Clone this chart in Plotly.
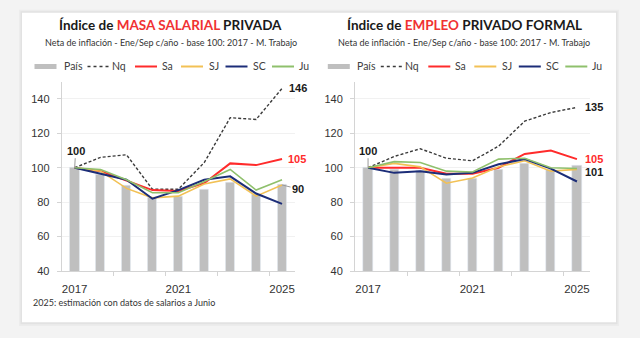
import plotly.graph_objects as go

# Años y series (base 100 = 2017)
years = [2017, 2018, 2019, 2020, 2021, 2022, 2023, 2024, 2025]

# Índice de masa salarial privada
masa_pais = [100, 96, 89.5, 82.5, 83.5, 87.5, 91.5, 84.5, 90]
masa_nq = [100, 106, 107.5, 87.5, 87.5, 103, 129, 128, 146]
masa_sa = [100, 98, 92.5, 87, 86.5, 91, 102.5, 101.5, 105]
masa_sj = [100, 98, 88, 82.5, 83.5, 90.5, 93.5, 83.5, 90]
masa_sc = [100, 96.5, 93, 82, 87, 93, 95, 85, 79]
masa_ju = [100, 99, 93, 85.5, 85.5, 92, 99, 87, 93]

# Índice de empleo privado formal
emp_pais = [100, 99, 98.5, 94, 94, 99, 102.5, 99, 101]
emp_nq = [100, 106.5, 111, 105.5, 104, 112.5, 127, 132, 135]
emp_sa = [100, 100, 100, 96.5, 96.5, 100, 108, 110, 105]
emp_sj = [100, 102.5, 100.5, 91, 94, 100.5, 104, 98, 99]
emp_sc = [100, 97, 98, 96, 97, 102, 105, 99.5, 92]
emp_ju = [100, 103.5, 103, 98, 97.5, 105, 105.5, 100, 99.5]

year_ticks = [2017, 2021, 2025]
year_ticktext = ["2017", "2021", "2025"]
y_ticks = [40, 60, 80, 100, 120, 140]

W, H = 640, 338
def PX(x):
    return x / W
def PY(y):
    return 1 - y / H

C_PAIS = "#bfbfbf"
C_NQ = "#3a3a3a"
C_SA = "#ff2b2b"
C_SJ = "#f2c155"
C_SC = "#1c2d78"
C_JU = "#8fc06c"
TXT = "#333333"
SANS = "Liberation Sans, Arial, sans-serif"
HUM = "Lato, Open Sans, sans-serif"

series_style = [
    ("Nq", dict(color=C_NQ, width=1.4, dash="3px,2px")),
    ("Sa", dict(color=C_SA, width=2)),
    ("SJ", dict(color=C_SJ, width=1.6)),
    ("SC", dict(color=C_SC, width=2)),
    ("Ju", dict(color=C_JU, width=1.6)),
]

fig = go.Figure()

def add_panel(xa, ya, pais, lines):
    fig.add_trace(go.Bar(x=years, y=pais, name="País", marker_color=C_PAIS,
                         width=0.35, xaxis=xa, yaxis=ya, showlegend=False))
    for (name, style), vals in zip(series_style, lines):
        fig.add_trace(go.Scatter(x=years, y=vals, name=name, mode="lines",
                                 line=style, xaxis=xa, yaxis=ya, showlegend=False))

add_panel("x", "y", masa_pais, [masa_nq, masa_sa, masa_sj, masa_sc, masa_ju])
add_panel("x2", "y2", emp_pais, [emp_nq, emp_sa, emp_sj, emp_sc, emp_ju])

dom_left = [PX(61.7), PX(295)]
dom_right = [PX(355), PX(590)]
dom_y = [PY(276), PY(83)]

xcommon = dict(range=[2016.5, 2025.5], tickvals=year_ticks, ticktext=year_ticktext,
               ticks="", showline=True, linecolor="#d4d4d4", linewidth=1,
               showgrid=False, zeroline=False, ticklabelstandoff=7,
               tickfont=dict(family=SANS, size=11.5, color=TXT),
               minor=dict(tickvals=[2018.5, 2020.5, 2022.5, 2024.5], ticks="outside",
                          ticklen=4, tickcolor="#d4d4d4", showgrid=False))
ycommon = dict(range=[40, 150], tickvals=y_ticks, ticks="outside", ticklen=4,
               tickcolor="#d4d4d4", showline=True, linecolor="#d4d4d4", linewidth=1,
               gridcolor="#f1f1f1", zeroline=False, ticklabelstandoff=5,
               tickfont=dict(family=SANS, size=11, color=TXT))

fig.update_layout(
    width=W, height=H, margin=dict(l=0, r=0, t=0, b=0),
    paper_bgcolor="#f3f3f3", plot_bgcolor="rgba(0,0,0,0)",
    bargap=0, showlegend=False,
    xaxis=dict(domain=dom_left, anchor="y", **xcommon),
    yaxis=dict(domain=dom_y, anchor="x", **ycommon),
    xaxis2=dict(domain=dom_right, anchor="y2", **xcommon),
    yaxis2=dict(domain=dom_y, anchor="x2", **ycommon),
)

# Tarjeta blanca con sombra suave
shapes = [
    dict(type="rect", xref="paper", yref="paper", x0=PX(19), x1=PX(619), y0=PY(332), y1=PY(10),
         fillcolor="#ececec", line_width=0, layer="below"),
    dict(type="rect", xref="paper", yref="paper", x0=PX(20.5), x1=PX(617.5), y0=PY(330), y1=PY(11.5),
         fillcolor="#e2e2e2", line_width=0, layer="below"),
    dict(type="rect", xref="paper", yref="paper", x0=PX(22), x1=PX(616), y0=PY(328), y1=PY(13),
         fillcolor="#ffffff", line_width=0, layer="below"),
]

annotations = []

# Títulos y subtítulos
def add_titles(cx, highlight, rest):
    annotations.append(dict(
        x=PX(cx), y=PY(25), xref="paper", yref="paper", showarrow=False,
        xanchor="center", yanchor="middle",
        text=f"Índice de <span style='color:#f03232'>{highlight}</span> {rest}",
        font=dict(family=HUM, size=13.5, color="#1a1a1a", weight="bold")))
    annotations.append(dict(
        x=PX(cx), y=PY(43.5), xref="paper", yref="paper", showarrow=False,
        xanchor="center", yanchor="middle",
        text="Neta de inflación - Ene/Sep c/año - base 100: 2017 - M. Trabajo",
        font=dict(family=HUM, size=9, color=TXT)))

add_titles(170.5, "MASA SALARIAL", "PRIVADA")
add_titles(464, "EMPLEO", "PRIVADO FORMAL")

# Leyendas de cada panel
legend_items = [
    ("País", dict(color=C_PAIS, width=5), 34.5, 61.5),
    ("Nq", dict(color=C_NQ, width=1.3, dash="dot"), 87.5, 110),
    ("Sa", dict(color=C_SA, width=2), 135, 159.5),
    ("SJ", dict(color=C_SJ, width=2), 181, 206.5),
    ("SC", dict(color=C_SC, width=2), 225.5, 250.5),
    ("Ju", dict(color=C_JU, width=2), 272, 297),
]
for offset in (0, 293.3):
    for name, ln, x0, xt in legend_items:
        shapes.append(dict(type="line", xref="paper", yref="paper",
                           x0=PX(x0 + offset), x1=PX(x0 + offset + 22),
                           y0=PY(67.7), y1=PY(67.7), line=ln))
        annotations.append(dict(x=PX(xt + offset), y=PY(67.7), xref="paper", yref="paper",
                                showarrow=False, xanchor="left", yanchor="middle", text=name,
                                font=dict(family=HUM, size=10.5, color="#404040")))

# Etiquetas de valor
def val_label(xa, ya, x, y, color, ax=None, ay=None, xshift=0, yshift=0):
    lab = dict(x=x, y=y, xref=xa, yref=ya, text=f"{y:.0f}",
               font=dict(family=SANS, size=11, color=color, weight="bold"))
    if ax is not None:
        lab.update(showarrow=True, ax=ax, ay=ay, arrowhead=0, arrowwidth=1,
                   arrowcolor="#9a9a9a", standoff=0)
    else:
        lab.update(showarrow=False, xanchor="center", yanchor="middle",
                   xshift=xshift, yshift=yshift)
    annotations.append(lab)

val_label("x", "y", years[0], masa_pais[0], "#1a1a1a", ax=1, ay=-17)
val_label("x", "y", years[-1], masa_nq[-1], "#1a1a1a", xshift=16)
val_label("x", "y", years[-1], masa_sa[-1], C_SA, xshift=15)
val_label("x", "y", years[-1], masa_pais[-1], "#1a1a1a", ax=16, ay=4)

val_label("x2", "y2", years[0], emp_pais[0], "#1a1a1a", ax=0, ay=-17)
val_label("x2", "y2", years[-1], emp_nq[-1], "#1a1a1a", xshift=17)
val_label("x2", "y2", years[-1], emp_sa[-1], C_SA, xshift=17)
val_label("x2", "y2", years[-1], emp_pais[-1], "#1a1a1a", xshift=17, yshift=-6.5)

# Nota al pie
annotations.append(dict(x=PX(31), y=PY(308), xref="paper", yref="paper", showarrow=False,
                        xanchor="left", yanchor="middle",
                        text="2025: estimación con datos de salarios a Junio",
                        font=dict(family=HUM, size=9, color=TXT)))

fig.update_layout(shapes=shapes, annotations=annotations)
fig.write_html("out.html")
